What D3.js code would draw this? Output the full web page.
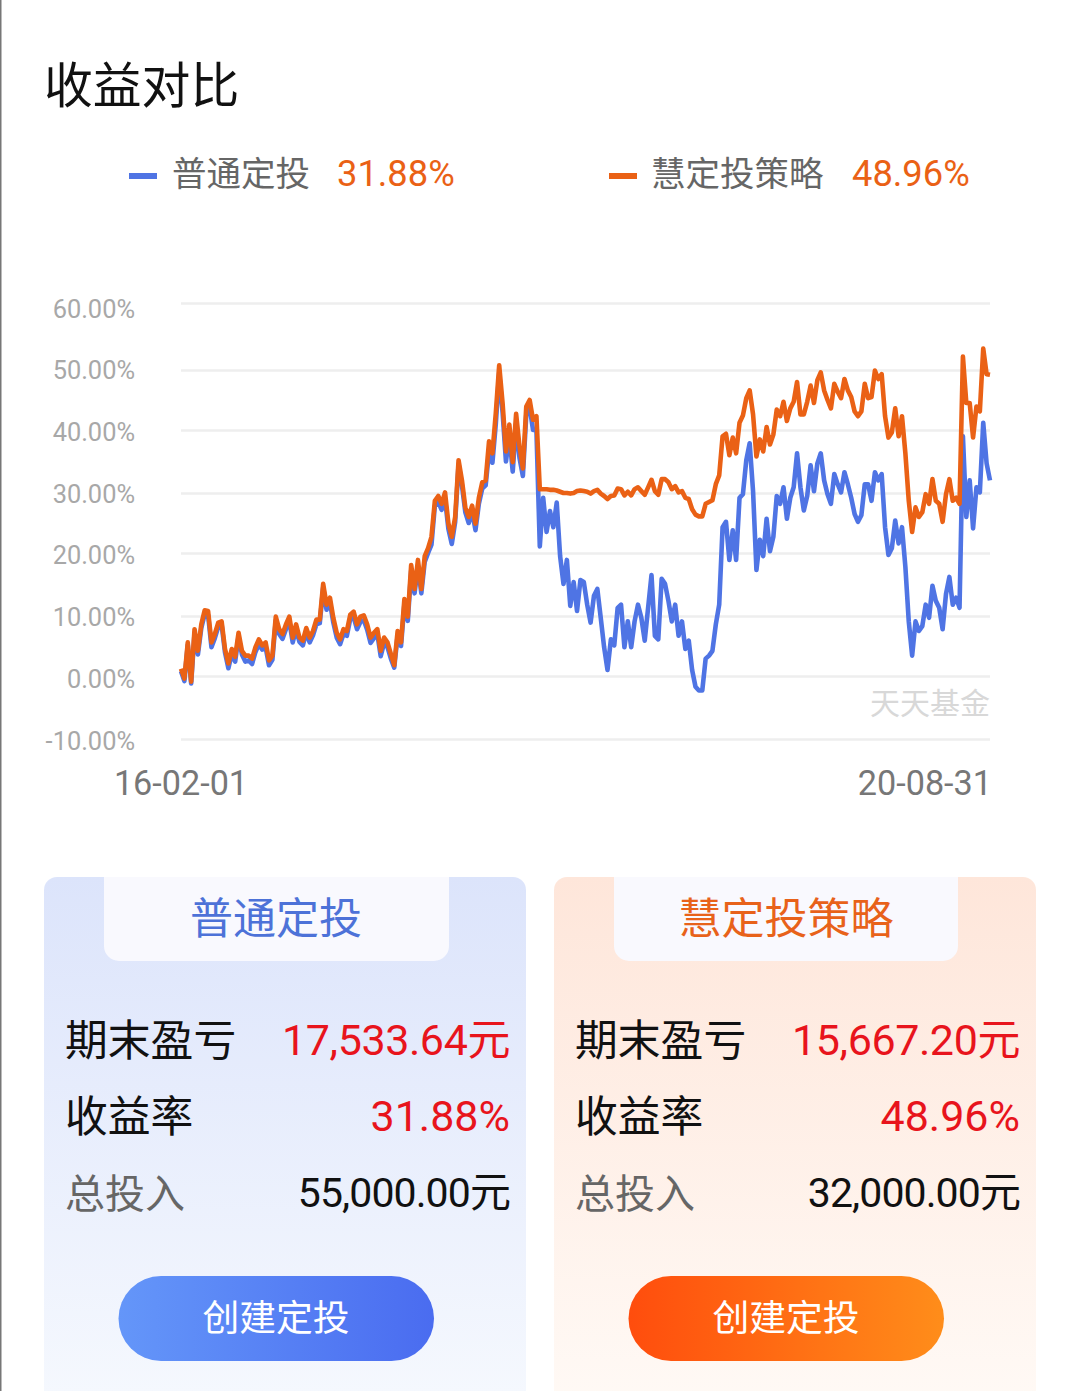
<!DOCTYPE html>
<html>
<head>
<meta charset="utf-8">
<script src="https://cdnjs.cloudflare.com/ajax/libs/d3/7.8.5/d3.min.js"></script>
<style>
  html, body { margin: 0; padding: 0; background: #fff; }
  svg { display: block; font-family: Roboto, "Noto Sans CJK SC", sans-serif; }
</style>
</head>
<body>
<div id="chart"></div>
<script>
// weekly readings, 16-02-01 to 20-08-31, in percent
const firstDay = new Date(2016, 1, 1)
const lastDay = new Date(2020, 7, 31)

const plainReturn = [
  0.8,-0.8,5.2,-1.2,7.2,3.6,8.0,10.3,10.2,4.8,6.3,8.2,8.6,3.9,1.3,3.7,2.4,6.6,3.6,2.4,
  2.6,2.0,4.0,5.3,4.4,4.8,1.8,2.7,9.3,7.0,6.2,7.8,9.2,5.6,7.8,5.7,5.1,7.3,5.6,6.8,
  8.6,8.8,14.5,11.0,12.2,8.9,6.4,5.3,7.0,6.7,9.5,9.8,7.8,9.0,9.3,7.7,5.5,6.3,7.0,3.3,
  5.5,4.8,2.9,1.4,6.8,5.0,11.9,9.2,17.2,13.6,18.0,13.6,18.6,20.0,21.4,27.9,28.5,27.2,29.0,24.0,
  21.5,25.2,34.6,31.2,26.8,25.0,26.9,23.8,28.2,30.7,31.2,36.6,34.8,41.0,49.6,43.0,35.0,39.2,33.4,41.2,
  35.6,32.7,42.5,43.8,40.0,40.0,21.1,29.2,23.5,27.0,24.3,28.4,19.5,15.1,18.9,11.6,15.4,10.8,15.7,15.4,
  11.8,8.9,13.2,14.3,9.7,4.8,1.0,6.1,5.1,11.3,11.8,4.8,9.1,4.8,9.1,11.8,9.7,5.9,11.3,16.5,
  6.7,6.1,15.9,15.1,12.4,9.1,11.8,6.7,9.1,4.5,5.9,1.0,-1.7,-2.3,-2.3,2.9,3.4,4.2,8.6,11.8,
  24.3,25.2,18.9,23.8,18.9,29.2,29.8,35.2,37.9,30.3,17.3,22.2,19.5,25.7,20.3,22.7,29.5,28.2,30.9,25.7,
  29.2,30.9,36.3,30.9,27.1,29.5,34.4,30.3,34.7,36.3,32.0,29.8,28.2,33.0,31.4,30.1,33.3,31.4,29.2,26.5,
  25.2,26.3,31.4,31.4,28.7,33.3,32.0,33.0,24.3,19.7,20.8,25.4,21.6,24.3,17.8,9.1,3.4,9.1,7.5,8.3,
  11.8,9.7,14.8,12.4,11.3,7.8,13.5,16.2,11.8,12.9,11.3,39.0,26.0,32.0,24.1,30.9,30.1,41.2,34.7,32.0
]

const smartReturn = [
  1.2,-0.4,5.6,-0.9,7.8,4.2,8.6,10.9,10.8,5.6,7.0,8.9,9.1,4.5,2.1,4.5,3.2,7.2,4.2,3.4,
  3.4,2.9,4.8,6.1,5.1,5.6,2.6,3.4,9.9,7.8,7.0,8.6,9.9,6.4,8.6,6.4,5.9,8.0,6.4,7.5,
  9.4,9.4,15.1,11.8,12.9,9.7,7.2,6.1,7.8,7.5,10.2,10.7,8.6,9.9,10.1,8.6,6.4,7.2,7.8,4.2,
  6.4,5.6,3.7,1.8,7.5,5.6,12.7,9.9,18.1,14.3,18.9,14.3,19.5,20.8,22.7,28.7,29.5,28.2,30.1,24.9,
  22.7,26.0,35.2,32.0,27.6,26.0,27.9,24.9,29.2,31.7,32.0,38.2,36.3,42.8,50.7,44.5,36.6,40.9,34.9,42.7,
  37.4,33.9,43.9,45.0,41.7,42.3,30.6,30.6,30.6,30.5,30.5,30.4,30.2,30.0,30.0,29.9,30.0,30.3,30.4,30.3,
  30.2,29.9,30.3,30.5,29.9,29.5,29.0,29.5,29.6,30.7,30.6,29.6,30.2,29.6,30.6,30.9,30.3,29.7,30.9,32.1,
  30.3,29.7,32.2,32.2,31.7,30.6,31.1,30.1,30.3,29.2,29.0,27.3,26.4,26.1,26.1,28.2,28.5,28.8,31.4,32.8,
  39.0,39.4,36.0,38.8,36.3,41.2,42.4,45.3,46.6,42.6,35.8,38.5,36.6,40.5,37.7,39.3,43.4,42.3,44.7,41.5,
  43.6,44.7,48.0,42.6,42.6,44.7,47.4,44.5,48.3,49.6,46.6,45.0,43.6,47.7,46.4,45.3,48.5,46.6,45.5,43.1,
  42.3,43.1,47.7,45.3,45.5,49.9,48.5,49.3,42.3,38.8,39.6,43.6,39.0,42.3,36.3,28.7,23.5,27.6,26.0,26.8,
  29.8,28.2,32.2,28.7,28.2,25.2,29.8,32.2,28.7,29.2,28.2,52.0,44.5,44.5,38.8,43.9,43.1,53.2,49.3,49.2
]

const yTicks = [-10, 0, 10, 20, 30, 40, 50, 60]
const xLabels = ['16-02-01', '20-08-31']
const seriesNames = ['普通定投', '慧定投策略']
const finalReturns = ['31.88%', '48.96%']
const rowLabels = ['期末盈亏', '收益率', '总投入']
const plainRows = ['17,533.64元', '31.88%', '55,000.00元']
const smartRows = ['15,667.20元', '48.96%', '32,000.00元']
const buttonText = '创建定投'

const w = 1080
const h = 1391
const blue = '#4f74e4'
const orange = '#ea6115'

const weeks = d3.timeMonday.range(firstDay, d3.timeDay.offset(lastDay, 1))

const x = d3.scaleTime().domain([firstDay, lastDay]).range([181, 990])
// the gridlines of the picture are not evenly spaced, so each tick is pinned
const y = d3.scaleLinear()
            .domain(yTicks)
            .range([739, 676, 616, 553, 493, 430, 370, 303])
// the labels beside them are evenly spaced
const yLabel = d3.scaleLinear().domain([-10, 60]).range([741, 309])

const svg = d3.select('#chart').append('svg')
              .attr('width', w)
              .attr('height', h)

const defs = svg.append('defs')

function gradient(id, x2, y2, from, to) {
  const g = defs.append('linearGradient')
                .attr('id', id)
                .attr('x1', 0).attr('y1', 0)
                .attr('x2', x2).attr('y2', y2)
  g.append('stop').attr('offset', 0).attr('stop-color', from)
  g.append('stop').attr('offset', 1).attr('stop-color', to)
}
gradient('cardBlue', 0, 1, '#dce4fb', '#f6f9fe')
gradient('cardOrange', 0, 1, '#fee6da', '#fffaf6')
gradient('btnBlue', 1, 0, '#6496f9', '#4a6cf0')
gradient('btnOrange', 1, 0, '#ff4d0d', '#ff8d1a')

svg.append('rect')
   .attr('width', w).attr('height', h)
   .attr('fill', '#fff')

svg.append('rect')
   .attr('width', 1.5).attr('height', h)
   .attr('fill', '#777')

svg.append('text')
   .attr('x', 44).attr('y', 103)
   .attr('font-size', 48.8)
   .attr('fill', '#111')
   .text('收益对比')

// legend
const legendAt = [
  { swatch: 129, name: 172, value: 337, color: blue },
  { swatch: 609, name: 651, value: 852, color: orange },
]
legendAt.forEach((l, i) => {
  svg.append('rect')
     .attr('x', l.swatch).attr('y', 173)
     .attr('width', 28).attr('height', 6)
     .attr('fill', l.color)
  svg.append('text')
     .attr('x', l.name).attr('y', 186)
     .attr('font-size', 34.5)
     .attr('fill', '#666')
     .text(seriesNames[i])
  svg.append('text')
     .attr('x', l.value).attr('y', 186)
     .attr('font-size', 36.3)
     .attr('fill', orange)
     .text(finalReturns[i])
})

// grid
const gridAxis = d3.axisLeft(y)
                   .tickValues(yTicks)
                   .tickSize(-809)
                   .tickFormat('')

const gridG = svg.append('g')
                 .attr('transform', 'translate(181, 0)')
                 .call(gridAxis)
gridG.select('.domain').remove()
gridG.selectAll('line').attr('stroke', '#eeeeee').attr('stroke-width', 2.5)

// y labels
const labelAxis = d3.axisLeft(yLabel)
                    .tickValues(yTicks)
                    .tickSize(0)
                    .tickPadding(46)
                    .tickFormat(d => d.toFixed(2) + '%')

const labelG = svg.append('g')
                  .attr('transform', 'translate(181, 0)')
                  .call(labelAxis)
labelG.select('.domain').remove()
labelG.selectAll('text')
      .attr('font-size', 25.4)
      .attr('fill', '#a8a8a8')
      .attr('font-family', 'Roboto')

svg.append('text')
   .attr('x', 990).attr('y', 714)
   .attr('text-anchor', 'end')
   .attr('font-size', 30)
   .attr('fill', '#d8d8d8')
   .text('天天基金')

// x labels
svg.append('text')
   .attr('x', x(firstDay)).attr('y', 795)
   .attr('text-anchor', 'middle')
   .attr('font-size', 34.2)
   .attr('fill', '#777')
   .text(xLabels[0])
svg.append('text')
   .attr('x', x(lastDay) + 2).attr('y', 795)
   .attr('text-anchor', 'end')
   .attr('font-size', 34.2)
   .attr('fill', '#777')
   .text(xLabels[1])

// lines
const line = d3.line()
               .x((d, i) => x(weeks[i]))
               .y(d => y(d))

svg.append('path')
   .attr('d', line(plainReturn))
   .attr('fill', 'none')
   .attr('stroke', blue)
   .attr('stroke-width', 4.6)
   .attr('stroke-linejoin', 'round')

svg.append('path')
   .attr('d', line(smartReturn))
   .attr('fill', 'none')
   .attr('stroke', orange)
   .attr('stroke-width', 4.6)
   .attr('stroke-linejoin', 'round')

// cards under the chart
const cards = [
  { left: 44, width: 482, tab: 104, tabWidth: 345, cx: 276, right: 510, fill: 'cardBlue', btn: 'btnBlue', color: '#4d72d8', rows: plainRows, name: seriesNames[0] },
  { left: 554, width: 482, tab: 614, tabWidth: 344, cx: 786, right: 1020, fill: 'cardOrange', btn: 'btnOrange', color: '#e8621a', rows: smartRows, name: seriesNames[1] },
]
const rowY = [1056, 1132, 1208]
const labelColors = ['#111', '#111', '#666']
const labelSizes = [42.8, 42.8, 40]
const valueSpacing = [-0.4, 0, -0.9]

cards.forEach(c => {
  const g = svg.append('g')
  g.append('rect')
   .attr('x', c.left).attr('y', 877)
   .attr('width', c.width).attr('height', 540)
   .attr('rx', 13)
   .attr('fill', 'url(#' + c.fill + ')')

  // tab hangs off the card top, only the lower corners are round
  g.append('rect')
   .attr('x', c.tab).attr('y', 860)
   .attr('width', c.tabWidth).attr('height', 101)
   .attr('rx', 15)
   .attr('fill', '#f9f9fe')
   .attr('clip-path', 'inset(17px 0 0 0)')

  g.append('text')
   .attr('x', c.cx).attr('y', 934)
   .attr('text-anchor', 'middle')
   .attr('font-size', 43)
   .attr('fill', c.color)
   .text(c.name)

  rowLabels.forEach((label, i) => {
    g.append('text')
     .attr('x', c.left + 21).attr('y', rowY[i])
     .attr('font-size', labelSizes[i])
     .attr('fill', labelColors[i])
     .text(label)
    g.append('text')
     .attr('x', c.right).attr('y', rowY[i] - 1)
     .attr('text-anchor', 'end')
     .attr('font-size', i === 2 ? 41 : 43)
     .attr('letter-spacing', valueSpacing[i])
     .attr('fill', i === 2 ? '#111' : '#e8141c')
     .text(c.rows[i])
  })

  g.append('rect')
   .attr('x', c.cx - 157.5).attr('y', 1276)
   .attr('width', 315.5).attr('height', 85)
   .attr('rx', 42.5)
   .attr('fill', 'url(#' + c.btn + ')')

  g.append('text')
   .attr('x', c.cx).attr('y', 1331)
   .attr('text-anchor', 'middle')
   .attr('font-size', 36.8)
   .attr('fill', '#fff')
   .text(buttonText)
})
</script>
</body>
</html>
